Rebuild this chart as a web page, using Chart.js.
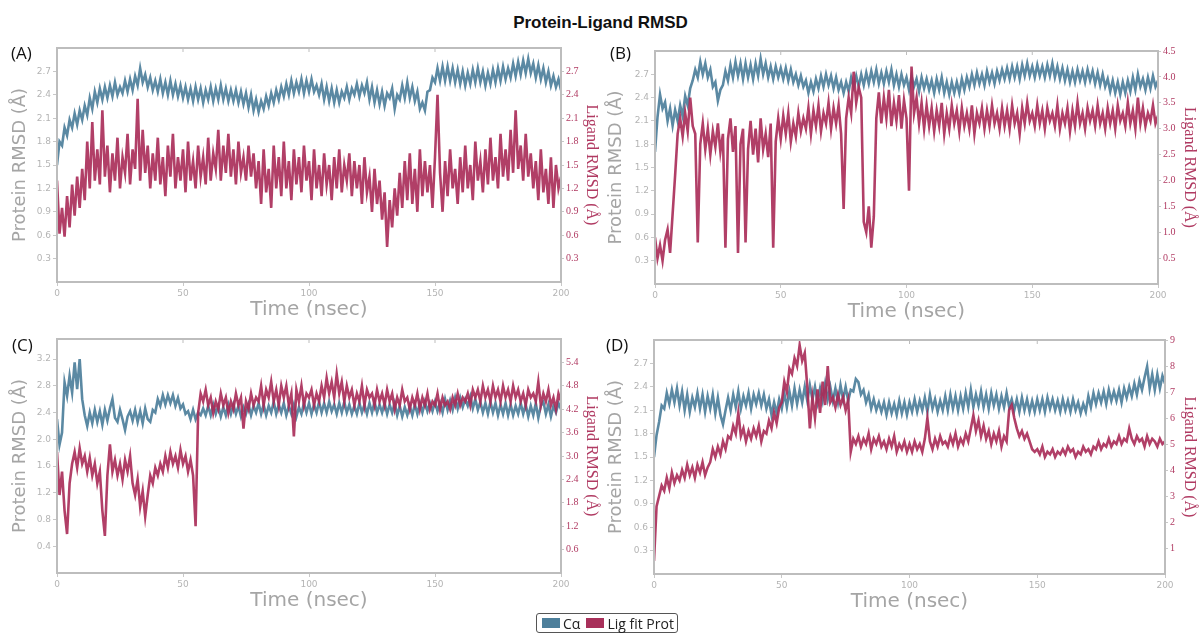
<!DOCTYPE html>
<html>
<head>
<meta charset="utf-8">
<script src="https://cdn.jsdelivr.net/npm/chart.js@4.4.0/dist/chart.umd.min.js"></script>
<style>
  body { margin: 0; background: #fff; width: 1201px; height: 635px; position: relative; overflow: hidden; font-family: 'Liberation Sans', Arial, sans-serif; }
  .title { position: absolute; left: 0; top: 13px; width: 1201px; text-align: center; font-weight: bold; font-size: 17px; color: #111; }
  .tag { position: absolute; font-family: 'Open Sans', sans-serif; font-size: 17px; color: #111; }
  .panel { position: absolute; }
  .legend { position: absolute; left: 536px; top: 613px; height: 18px; padding: 0 3px; border: 1px solid #555; border-radius: 3px;
            display: flex; align-items: center; font-family: 'Open Sans', sans-serif; font-size: 14px; color: #222; white-space: nowrap; }
  .sw { display: inline-block; width: 18px; height: 10px; margin: 0 3px 0 2px; }
</style>
</head>
<body>
<div class="title">Protein-Ligand RMSD</div>

<canvas class="panel" id="chartA" width="605" height="285" style="left:0px;top:40px;"></canvas>
<canvas class="panel" id="chartB" width="605" height="287" style="left:598px;top:40px;"></canvas>
<canvas class="panel" id="chartC" width="605" height="286" style="left:0px;top:330px;"></canvas>
<canvas class="panel" id="chartD" width="606" height="287" style="left:597px;top:330px;"></canvas>

<div class="tag" style="left:11px;top:41px;">(A)</div>
<div class="tag" style="left:610px;top:41px;">(B)</div>
<div class="tag" style="left:12px;top:333px;">(C)</div>
<div class="tag" style="left:606px;top:333px;">(D)</div>

<div class="legend">
  <span class="sw" style="background:#4d7f9b"></span>Cα
  <span class="sw" style="background:#a8305a;margin-left:6px"></span>Lig fit Prot
</div>

<script>
// time axis (nsec), one frame per ns
const timeNs = [
  0,1,2,3,4,5,6,7,8,9,10,11,12,13,14,15,16,17,18,19,
  20,21,22,23,24,25,26,27,28,29,30,31,32,33,34,35,36,37,38,39,
  40,41,42,43,44,45,46,47,48,49,50,51,52,53,54,55,56,57,58,59,
  60,61,62,63,64,65,66,67,68,69,70,71,72,73,74,75,76,77,78,79,
  80,81,82,83,84,85,86,87,88,89,90,91,92,93,94,95,96,97,98,99,
  100,101,102,103,104,105,106,107,108,109,110,111,112,113,114,115,116,117,118,119,
  120,121,122,123,124,125,126,127,128,129,130,131,132,133,134,135,136,137,138,139,
  140,141,142,143,144,145,146,147,148,149,150,151,152,153,154,155,156,157,158,159,
  160,161,162,163,164,165,166,167,168,169,170,171,172,173,174,175,176,177,178,179,
  180,181,182,183,184,185,186,187,188,189,190,191,192,193,194,195,196,197,198,199,
  200
];
const xTicks = [0, 50, 100, 150, 200];

// (A)
const caA = [
  1.5,1.8,1.75,1.98,1.88,2.08,1.98,2.16,2.02,2.2, 2.08,2.26,2.14,2.36,2.22,2.44,2.3,2.48,2.34,2.5,
  2.36,2.52,2.38,2.56,2.4,2.5,2.42,2.58,2.44,2.6, 2.46,2.64,2.52,2.74,2.56,2.66,2.5,2.62,2.46,2.58,
  2.44,2.6,2.42,2.56,2.4,2.58,2.4,2.54,2.38,2.52, 2.36,2.5,2.34,2.48,2.32,2.5,2.34,2.48,2.3,2.46,
  2.34,2.5,2.32,2.48,2.34,2.52,2.34,2.48,2.32,2.46, 2.32,2.46,2.3,2.44,2.28,2.42,2.24,2.4,2.2,2.34,
  2.18,2.32,2.22,2.38,2.26,2.42,2.3,2.46,2.34,2.5, 2.38,2.54,2.4,2.58,2.42,2.56,2.44,2.6,2.42,2.58,
  2.44,2.6,2.44,2.52,2.4,2.54,2.34,2.5,2.32,2.48, 2.3,2.46,2.3,2.44,2.36,2.5,2.34,2.48,2.4,2.54,
  2.38,2.52,2.42,2.56,2.34,2.5,2.3,2.46,2.28,2.44, 2.26,2.42,2.36,2.48,2.22,2.4,2.34,2.52,2.36,2.56,
  2.36,2.5,2.32,2.44,2.22,2.3,2.2,2.44,2.46,2.62, 2.56,2.74,2.58,2.76,2.58,2.76,2.58,2.74,2.56,2.72,
  2.54,2.7,2.52,2.68,2.54,2.72,2.56,2.74,2.56,2.7, 2.52,2.68,2.54,2.72,2.56,2.74,2.58,2.76,2.6,2.74,
  2.62,2.8,2.64,2.82,2.66,2.84,2.68,2.86,2.68,2.8, 2.62,2.78,2.6,2.74,2.56,2.7,2.52,2.64,2.5,2.6,
  2.46
];
const ligA = [
  1.3,0.62,0.95,0.58,1.1,0.7,1.25,0.85,1.35,0.95, 1.45,1.05,1.8,1.2,2.05,1.3,1.7,1.25,2.2,1.35,
  1.75,1.15,1.65,1.3,1.85,1.2,1.6,1.4,1.9,1.25, 1.7,1.45,2.35,1.3,1.95,1.4,1.75,1.2,1.65,1.3,
  1.85,1.25,1.6,1.1,1.75,1.35,1.9,1.2,1.6,1.3, 1.7,1.15,1.8,1.3,1.55,1.2,1.75,1.35,1.6,1.25,
  1.85,1.3,1.65,1.45,1.95,1.3,1.75,1.4,1.9,1.35, 1.7,1.25,1.8,1.4,1.6,1.3,1.75,1.35,1.65,1.2,
  1.55,1.0,1.7,1.15,1.45,0.95,1.75,1.2,1.6,1.1, 1.8,1.2,1.55,1.05,1.7,1.25,1.6,1.15,1.75,1.3,
  1.55,1.05,1.7,1.2,1.5,1.1,1.65,1.25,1.5,1.05, 1.6,1.2,1.7,1.15,1.5,1.3,1.65,1.1,1.55,1.2,
  1.5,1.0,1.6,1.15,1.35,0.9,1.45,1.0,1.3,0.8, 1.15,0.45,1.05,0.7,1.2,0.85,1.4,0.95,1.55,1.05,
  1.65,1.0,1.45,0.9,1.7,1.1,1.55,1.15,1.5,0.95, 1.6,2.4,1.4,0.9,1.55,1.1,1.7,1.2,1.45,1.0,
  1.6,1.15,1.75,1.2,1.5,1.05,1.8,1.3,1.55,1.15, 1.7,1.25,1.85,1.3,1.6,1.2,1.9,1.35,1.7,1.3,
  1.95,1.4,2.2,1.45,1.75,1.3,1.9,1.35,1.65,1.2, 1.55,1.05,1.7,1.15,1.45,1.0,1.6,0.95,1.5,1.2,
  1.35
];

// (B)
const caB = [
  1.7,2.15,2.44,2.26,2.34,2.1,2.26,2.04,2.24,2.1, 2.3,2.16,2.42,2.3,2.52,2.62,2.76,2.66,2.86,2.7,
  2.84,2.66,2.76,2.54,2.6,2.36,2.5,2.56,2.74,2.62, 2.82,2.66,2.86,2.68,2.84,2.64,2.84,2.66,2.82,2.64,
  2.84,2.68,2.9,2.7,2.84,2.66,2.8,2.64,2.8,2.66, 2.78,2.64,2.78,2.62,2.76,2.6,2.7,2.56,2.68,2.54,
  2.62,2.46,2.6,2.48,2.64,2.52,2.68,2.54,2.7,2.56, 2.68,2.52,2.66,2.5,2.6,2.46,2.6,2.48,2.66,2.54,
  2.68,2.54,2.7,2.56,2.72,2.58,2.74,2.6,2.76,2.58, 2.72,2.58,2.74,2.6,2.76,2.56,2.7,2.54,2.7,2.56,
  2.66,2.5,2.68,2.54,2.64,2.48,2.66,2.52,2.64,2.5, 2.62,2.46,2.64,2.5,2.66,2.46,2.6,2.44,2.6,2.46,
  2.6,2.46,2.64,2.5,2.66,2.54,2.7,2.56,2.72,2.58, 2.7,2.56,2.74,2.6,2.72,2.58,2.74,2.62,2.76,2.64,
  2.78,2.64,2.8,2.66,2.8,2.64,2.82,2.68,2.84,2.68, 2.8,2.66,2.82,2.68,2.8,2.66,2.82,2.68,2.84,2.66,
  2.8,2.64,2.78,2.62,2.76,2.6,2.74,2.6,2.76,2.62, 2.74,2.6,2.76,2.62,2.74,2.58,2.72,2.56,2.7,2.54,
  2.64,2.48,2.62,2.46,2.6,2.44,2.6,2.46,2.62,2.48, 2.66,2.5,2.7,2.54,2.64,2.5,2.66,2.52,2.68,2.54,
  2.62
];
const ligB = [
  0.9,0.5,0.75,0.45,0.85,1.05,0.6,1.35,2.1,2.9, 3.2,2.85,3.3,2.95,3.6,3.05,2.9,0.8,2.7,3.1,
  2.6,3.0,2.5,2.95,2.65,3.1,2.55,2.9,0.7,2.8, 3.2,2.55,3.05,0.6,2.7,3.0,0.8,2.6,3.15,2.5,
  3.0,2.35,3.2,2.6,2.9,2.45,3.1,0.7,2.75,3.2, 2.8,3.25,2.9,3.3,2.75,3.1,2.85,3.3,2.95,3.2,
  3.0,3.4,2.9,3.35,3.05,3.45,2.95,3.3,3.1,3.5, 3.0,3.4,3.1,3.45,2.9,1.45,3.2,3.6,3.3,4.1,
  3.5,3.8,3.6,1.2,1.0,1.5,0.7,1.3,3.2,3.7, 3.1,3.6,3.2,3.75,3.05,3.5,3.15,3.65,3.0,3.55,
  3.2,1.8,4.2,3.3,3.6,3.1,3.5,3.0,3.45,3.05, 3.4,2.95,3.35,3.05,3.5,2.9,3.3,3.0,3.45,3.1,
  3.35,2.95,3.4,3.05,3.3,3.0,3.45,2.9,3.3,3.1, 3.4,3.0,3.35,3.05,3.45,3.1,3.3,3.0,3.4,3.05,
  3.35,3.0,3.45,3.1,3.3,2.9,3.4,3.1,3.5,3.15, 3.3,3.05,3.45,3.1,3.35,3.0,3.4,3.15,3.3,3.05,
  3.45,3.0,3.3,3.1,3.4,2.95,3.35,3.05,3.5,3.1, 3.3,3.0,3.4,3.15,3.35,3.05,3.45,3.1,3.3,3.0,
  3.4,3.1,3.35,3.0,3.45,3.15,3.3,3.05,3.5,3.1, 3.35,3.0,3.6,3.1,3.4,3.05,3.3,3.15,3.45,3.1,
  3.25
];

// (C)
const caC = [
  2.3,1.92,2.1,2.85,2.65,2.95,2.7,3.15,2.75,3.2, 2.6,2.36,2.2,2.4,2.24,2.44,2.26,2.42,2.22,2.44,
  2.28,2.46,2.6,2.32,2.26,2.44,2.3,2.14,2.34,2.42, 2.28,2.44,2.26,2.42,2.24,2.46,2.3,2.26,2.44,2.4,
  2.6,2.5,2.66,2.52,2.66,2.54,2.66,2.5,2.62,2.46, 2.52,2.38,2.42,2.3,2.44,2.3,2.4,2.36,2.46,2.36,
  2.5,2.36,2.52,2.38,2.5,2.34,2.48,2.36,2.52,2.38, 2.52,2.38,2.5,2.34,2.48,2.38,2.52,2.36,2.5,2.4,
  2.54,2.38,2.52,2.36,2.5,2.4,2.56,2.38,2.52,2.4, 2.54,2.36,2.5,2.38,2.52,2.34,2.48,2.38,2.54,2.4,
  2.54,2.38,2.52,2.4,2.56,2.4,2.54,2.4,2.56,2.42, 2.52,2.38,2.54,2.4,2.56,2.4,2.52,2.38,2.5,2.38,
  2.54,2.4,2.52,2.38,2.54,2.4,2.56,2.4,2.52,2.4, 2.54,2.38,2.52,2.4,2.54,2.36,2.5,2.34,2.48,2.36,
  2.5,2.36,2.52,2.38,2.54,2.4,2.56,2.42,2.54,2.42, 2.56,2.42,2.54,2.4,2.6,2.44,2.58,2.44,2.62,2.46,
  2.62,2.48,2.6,2.5,2.64,2.46,2.6,2.44,2.56,2.4, 2.54,2.38,2.56,2.4,2.54,2.36,2.52,2.38,2.54,2.36,
  2.52,2.36,2.5,2.38,2.54,2.38,2.52,2.34,2.5,2.36, 2.54,2.32,2.5,2.56,2.38,2.52,2.34,2.5,2.4,2.54,
  2.45
];
const ligC = [
  3.1,2.0,2.6,1.6,1.0,2.3,2.8,3.1,2.7,3.2, 2.8,3.0,2.6,2.95,2.5,2.8,2.3,2.6,1.6,0.95,
  2.5,3.3,2.6,2.9,2.5,2.8,2.4,2.9,2.6,3.0, 2.3,2.0,2.4,1.7,2.1,1.45,2.0,2.5,2.3,2.7,
  2.5,2.8,2.6,3.0,2.7,3.1,2.8,3.0,2.7,3.15, 2.8,3.0,2.6,2.9,2.5,1.2,4.1,4.6,4.4,4.7,
  4.3,4.5,4.1,4.4,4.2,4.6,4.3,4.5,4.1,4.4, 4.2,4.6,4.3,4.5,3.7,4.4,4.2,4.6,4.3,4.5,
  4.4,4.8,4.3,4.7,4.5,4.9,4.4,4.7,4.3,4.8, 4.5,4.8,4.3,4.6,3.5,4.7,4.4,4.8,4.3,4.6,
  4.5,4.7,4.3,4.6,4.4,4.8,4.5,5.0,4.6,4.9, 4.5,5.1,4.6,4.9,4.4,4.8,4.5,4.7,4.3,4.6,
  4.4,4.8,4.3,4.7,4.5,4.6,4.3,4.7,4.4,4.6, 4.3,4.7,4.4,4.6,4.2,4.5,4.3,4.7,4.4,4.5,
  4.2,4.5,4.3,4.6,4.2,4.5,4.3,4.6,4.2,4.4, 4.3,4.6,4.2,4.5,4.3,4.4,4.2,4.5,4.3,4.6,
  4.3,4.5,4.4,4.6,4.3,4.7,4.5,4.7,4.4,4.8, 4.5,4.7,4.4,4.8,4.5,4.7,4.4,4.8,4.5,4.7,
  4.4,4.8,4.5,4.7,4.4,4.6,4.3,4.7,4.5,4.6, 4.4,4.9,4.3,4.6,4.4,4.7,4.3,4.5,4.2,4.6,
  4.4
];

// (D)
const caD = [
  1.5,1.78,1.95,2.16,2.12,2.32,2.18,2.36,2.2,2.38, 2.16,2.34,2.1,2.3,2.08,2.26,2.14,2.32,2.12,2.3,
  2.08,2.28,2.12,2.3,2.06,2.26,2.04,1.92,2.1,2.26, 2.1,2.3,2.14,2.34,2.12,2.28,2.16,2.32,2.12,2.3,
  2.18,2.32,2.16,2.3,2.12,2.24,2.04,2.2,2.06,2.24, 2.12,2.32,2.14,2.34,2.16,2.38,2.18,2.36,2.2,2.4,
  2.22,2.42,2.24,2.4,2.2,2.38,2.22,2.44,2.24,2.4, 2.22,2.38,2.2,2.42,2.24,2.4,2.22,2.36,2.34,2.5,
  2.46,2.3,2.36,2.2,2.3,2.12,2.24,2.1,2.2,2.08, 2.2,2.04,2.2,2.06,2.18,2.04,2.22,2.06,2.2,2.04,
  2.2,2.08,2.24,2.08,2.22,2.1,2.26,2.08,2.3,2.12, 2.24,2.08,2.22,2.1,2.28,2.1,2.3,2.12,2.28,2.1,
  2.28,2.12,2.32,2.14,2.36,2.14,2.3,2.16,2.34,2.14, 2.3,2.12,2.32,2.16,2.3,2.12,2.28,2.14,2.32,2.14,
  2.24,2.1,2.24,2.08,2.26,2.1,2.24,2.08,2.22,2.08, 2.24,2.1,2.24,2.08,2.26,2.12,2.24,2.1,2.22,2.08,
  2.24,2.1,2.22,2.08,2.24,2.1,2.2,2.06,2.18,2.08, 2.28,2.14,2.32,2.18,2.32,2.2,2.34,2.18,2.36,2.22,
  2.34,2.22,2.36,2.2,2.38,2.26,2.4,2.28,2.44,2.3, 2.48,2.36,2.52,2.66,2.38,2.56,2.36,2.56,2.38,2.54,
  2.44
];
const ligD = [
  0.5,2.6,3.0,3.4,3.2,3.7,3.3,3.9,3.5,3.8, 3.6,4.0,3.7,4.2,3.8,4.1,3.7,4.2,3.9,4.3,
  3.8,4.1,4.3,4.8,4.5,4.9,4.6,5.1,4.8,5.3, 5.2,5.7,5.4,6.2,5.3,5.6,5.1,5.5,5.2,5.6,
  5.3,5.7,5.1,5.5,5.4,5.9,5.6,6.2,5.8,6.4, 6.6,7.4,7.0,7.9,7.7,8.3,8.0,8.8,8.2,8.5,
  7.2,5.6,6.8,6.0,7.1,6.2,7.4,6.5,8.0,6.6, 6.8,6.4,6.9,6.5,6.8,6.3,6.7,4.7,5.2,5.0,
  5.3,4.9,5.2,5.0,5.4,4.8,5.2,5.0,5.3,4.9, 5.1,4.8,5.2,4.9,5.3,4.7,5.0,4.8,5.1,4.7,
  5.0,4.7,5.1,4.8,5.0,4.7,5.2,6.0,5.1,4.8, 5.2,4.9,5.3,5.0,5.1,4.9,5.3,5.0,5.4,4.9,
  5.2,5.0,5.4,5.1,5.6,6.1,5.5,5.9,5.3,5.7, 5.2,5.5,5.0,5.4,5.1,5.5,4.9,5.3,5.1,6.3,
  6.5,6.0,5.6,5.3,5.5,5.2,5.4,5.1,4.8,4.7, 4.8,4.6,4.9,4.5,4.7,4.6,4.8,4.5,4.7,4.6,
  4.8,4.6,4.9,4.7,4.8,4.5,4.7,4.6,4.9,4.7, 4.8,4.6,4.9,4.8,5.1,4.8,5.0,4.9,5.2,4.9,
  5.1,5.0,5.3,5.0,5.2,5.1,5.6,5.2,5.0,5.3, 5.1,5.2,4.9,5.3,5.0,5.2,5.1,4.9,5.2,5.0,
  5.1
];

const BLUE = 'rgba(77,127,155,0.92)';
const RED = 'rgba(168,42,86,0.9)';
const GRAY = '#a5a5a5';
const CRIMSON = '#b03a62';

// grey frame round the plot area with small inward ticks on the top edge
const framePlugin = {
  id: 'frame',
  afterDatasetsDraw(chart) {
    const { ctx, chartArea: a } = chart;
    ctx.save();
    ctx.strokeStyle = '#bdbdbd';
    ctx.lineWidth = 2;
    ctx.strokeRect(a.left, a.top, a.right - a.left, a.bottom - a.top);
    ctx.lineWidth = 1;
    chart.scales.x.ticks.forEach(t => {
      const px = chart.scales.x.getPixelForValue(t.value);
      ctx.beginPath();
      ctx.moveTo(px, a.top);
      ctx.lineTo(px, a.top + 4);
      ctx.stroke();
    });
    ctx.restore();
  }
};

function tickLabel(maxShown, decimals) {
  return function(value) {
    if (value <= 0 || value > maxShown + 1e-6) return null;
    return value.toFixed(decimals);
  };
}

function makePanel(canvasId, ca, lig, opt) {
  const ctx = document.getElementById(canvasId).getContext('2d');
  return new Chart(ctx, {
    type: 'line',
    data: {
      datasets: [
        {
          label: 'Cα',
          data: timeNs.map((t, i) => ({ x: t, y: ca[i] })),
          borderColor: BLUE,
          borderWidth: 2.6,
          pointRadius: 0,
          tension: 0,
          yAxisID: 'yL',
          order: 2
        },
        {
          label: 'Lig fit Prot',
          data: timeNs.map((t, i) => ({ x: t, y: lig[i] })),
          borderColor: RED,
          borderWidth: 2.6,
          pointRadius: 0,
          tension: 0,
          yAxisID: 'yR',
          order: 1
        }
      ]
    },
    options: {
      responsive: false,
      animation: false,
      layout: { padding: { top: opt.padTop, left: 0, right: 0, bottom: 0 } },
      plugins: { legend: { display: false }, tooltip: { enabled: false } },
      scales: {
        x: {
          type: 'linear',
          min: 0,
          max: 200,
          afterBuildTicks: s => { s.ticks = xTicks.map(v => ({ value: v })); },
          afterFit: s => { s.height = 43; },
          grid: { drawOnChartArea: false, tickLength: 4, color: '#c8c8c8' },
          border: { color: '#bdbdbd', width: 2 },
          ticks: { color: '#b4b4b4', padding: 2, maxRotation: 0, font: { family: 'DejaVu Sans', size: 9 } },
          title: { display: true, text: 'Time (nsec)', color: GRAY, padding: { top: 0, bottom: 3 },
                   font: { family: 'DejaVu Sans', size: 20 } }
        },
        yL: {
          position: 'left',
          min: 0,
          max: opt.leftMax,
          ticks: { stepSize: opt.leftStep, callback: tickLabel(opt.leftShow, 1), color: '#b4b4b4', padding: 2,
                   font: { family: 'DejaVu Sans', size: 9 } },
          afterFit: s => { s.width = 57; },
          grid: { drawOnChartArea: false, tickLength: 4, color: '#c8c8c8' },
          border: { color: '#bdbdbd', width: 2 },
          title: { display: true, text: 'Protein RMSD (Å)', color: GRAY, padding: { top: opt.leftPad, bottom: 0 },
                   font: { family: 'DejaVu Sans', size: 18 } }
        },
        yR: {
          position: 'right',
          min: 0,
          max: opt.rightMax,
          ticks: { stepSize: opt.rightStep, callback: tickLabel(opt.rightShow, opt.rightDec), color: CRIMSON, padding: 2,
                   font: { family: 'Liberation Serif', size: 10 } },
          afterFit: s => { s.width = opt.rightWidth; },
          grid: { drawOnChartArea: false, tickLength: 3, color: '#c8c8c8' },
          border: { color: '#bdbdbd', width: 2 },
          title: { display: true, text: 'Ligand RMSD (Å)', color: CRIMSON, padding: { top: 4, bottom: 0 },
                   font: { family: 'Liberation Serif', size: 16 } }
        }
      }
    },
    plugins: [framePlugin]
  });
}

makePanel('chartA', caA, ligA, { padTop: 8, leftPad: 10, leftMax: 3.0, leftStep: 0.3, leftShow: 2.7,
  rightMax: 3.0, rightStep: 0.3, rightShow: 2.7, rightDec: 1, rightWidth: 44 });
makePanel('chartB', caB, ligB, { padTop: 11, leftPad: 8, leftMax: 3.0, leftStep: 0.3, leftShow: 2.7,
  rightMax: 4.5, rightStep: 0.5, rightShow: 4.5, rightDec: 1, rightWidth: 45 });
makePanel('chartC', caC, ligC, { padTop: 9, leftPad: 10, leftMax: 3.5, leftStep: 0.4, leftShow: 3.2,
  rightMax: 6.0, rightStep: 0.6, rightShow: 5.4, rightDec: 1, rightWidth: 44 });
makePanel('chartD', caD, ligD, { padTop: 10, leftPad: 9, leftMax: 3.0, leftStep: 0.3, leftShow: 2.7,
  rightMax: 9, rightStep: 1, rightShow: 9, rightDec: 0, rightWidth: 38 });
</script>
</body>
</html>
